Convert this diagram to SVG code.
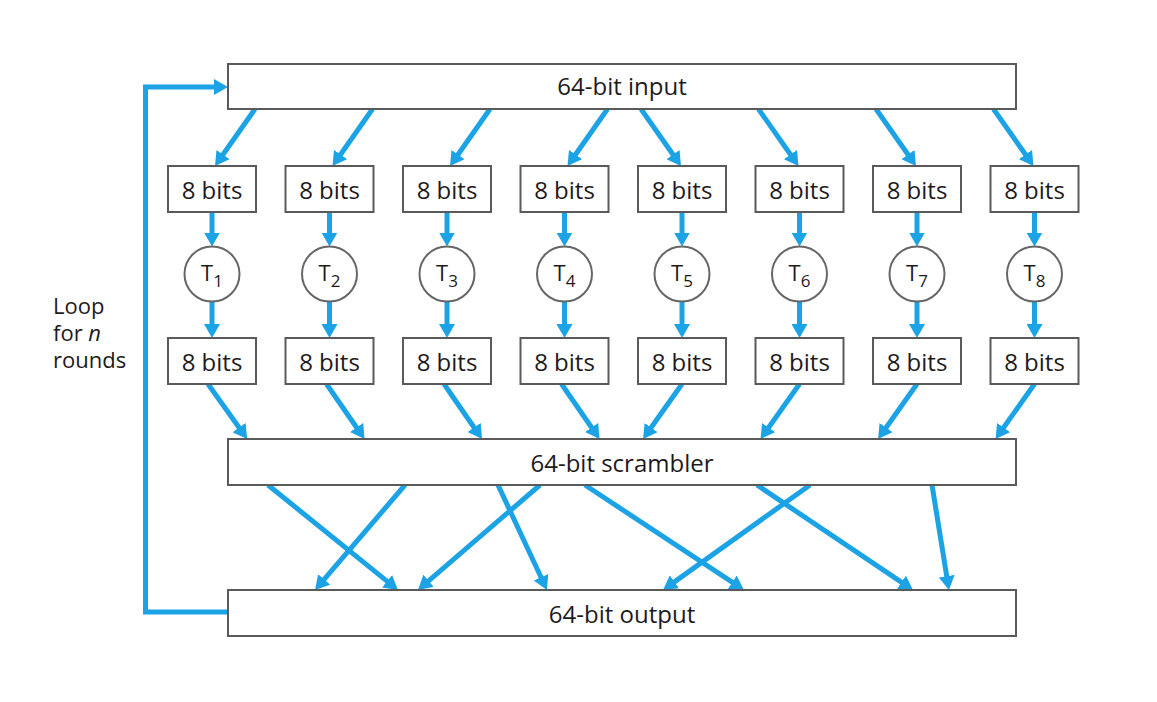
<svg xmlns="http://www.w3.org/2000/svg" width="1157" height="702" viewBox="0 0 1157 702">
  <style>
    .box { fill: #ffffff; stroke: #5a5a5a; stroke-width: 2; }
    .circ { fill: #ffffff; stroke: #666666; stroke-width: 2; }
    .lbl { font-family: "Open Sans", "Noto Sans", sans-serif; font-size: 24px; fill: #1e1a1b; text-anchor: middle; }
    .tl { font-family: "Open Sans", "Noto Sans", sans-serif; font-size: 22px; fill: #1e1a1b; text-anchor: middle; }
    .side { font-family: "Open Sans", "Noto Sans", sans-serif; font-size: 22px; fill: #1e1a1b; }
    .arr { stroke: #1ba3e6; stroke-width: 5; fill: none; marker-end: url(#head); }
  </style>
  <defs>
    <marker id="head" viewBox="0 0 14 16" refX="3" refY="8" markerWidth="14" markerHeight="16" markerUnits="userSpaceOnUse" orient="auto">
      <path d="M0,0 L14,8 L0,16 z" fill="#1ba3e6"/>
    </marker>
  </defs>

  <rect width="1157" height="702" fill="#ffffff"/>

  <!-- connectors -->
  <g id="connectors">
    <!-- feedback loop: output back to input -->
    <path class="arr" d="M228,612 H145.5 V87 H217" stroke-linejoin="miter"/>

    <!-- input to first 8-bit blocks -->
    <line class="arr" x1="255" y1="109" x2="221.3" y2="157"/>
    <line class="arr" x1="372.5" y1="109" x2="338.8" y2="157"/>
    <line class="arr" x1="490" y1="109" x2="456.3" y2="157"/>
    <line class="arr" x1="607.5" y1="109" x2="573.8" y2="157"/>
    <line class="arr" x1="641" y1="109" x2="674.7" y2="157"/>
    <line class="arr" x1="758.5" y1="109" x2="792.2" y2="157"/>
    <line class="arr" x1="876" y1="109" x2="909.7" y2="157"/>
    <line class="arr" x1="993.5" y1="109" x2="1027.2" y2="157"/>

    <!-- blocks to T boxes and back -->
    <line class="arr" x1="212" y1="212" x2="212" y2="235.5"/>
    <line class="arr" x1="329.5" y1="212" x2="329.5" y2="235.5"/>
    <line class="arr" x1="447" y1="212" x2="447" y2="235.5"/>
    <line class="arr" x1="564.5" y1="212" x2="564.5" y2="235.5"/>
    <line class="arr" x1="682" y1="212" x2="682" y2="235.5"/>
    <line class="arr" x1="799.5" y1="212" x2="799.5" y2="235.5"/>
    <line class="arr" x1="917" y1="212" x2="917" y2="235.5"/>
    <line class="arr" x1="1034.5" y1="212" x2="1034.5" y2="235.5"/>

    <line class="arr" x1="212" y1="301.5" x2="212" y2="327"/>
    <line class="arr" x1="329.5" y1="301.5" x2="329.5" y2="327"/>
    <line class="arr" x1="447" y1="301.5" x2="447" y2="327"/>
    <line class="arr" x1="564.5" y1="301.5" x2="564.5" y2="327"/>
    <line class="arr" x1="682" y1="301.5" x2="682" y2="327"/>
    <line class="arr" x1="799.5" y1="301.5" x2="799.5" y2="327"/>
    <line class="arr" x1="917" y1="301.5" x2="917" y2="327"/>
    <line class="arr" x1="1034.5" y1="301.5" x2="1034.5" y2="327"/>

    <!-- second 8-bit blocks to scrambler -->
    <line class="arr" x1="208" y1="384" x2="240.8" y2="430"/>
    <line class="arr" x1="326.5" y1="384" x2="358.3" y2="430"/>
    <line class="arr" x1="444" y1="384" x2="475.8" y2="430"/>
    <line class="arr" x1="561.5" y1="384" x2="593.3" y2="430"/>
    <line class="arr" x1="682" y1="384" x2="649.4" y2="430"/>
    <line class="arr" x1="799.5" y1="384" x2="766.9" y2="430"/>
    <line class="arr" x1="917" y1="384" x2="884.4" y2="430"/>
    <line class="arr" x1="1034.5" y1="384" x2="1001.9" y2="430"/>

    <!-- scrambler to output -->
    <line class="arr" x1="268" y1="485" x2="389.4" y2="583.1"/>
    <line class="arr" x1="405" y1="485" x2="322.2" y2="581.7"/>
    <line class="arr" x1="498" y1="485" x2="542.3" y2="580"/>
    <line class="arr" x1="540" y1="485" x2="426.3" y2="582.8"/>
    <line class="arr" x1="585" y1="485" x2="734.8" y2="583.9"/>
    <line class="arr" x1="757" y1="485" x2="903.9" y2="583.9"/>
    <line class="arr" x1="810" y1="485" x2="672" y2="583.6"/>
    <line class="arr" x1="932" y1="485" x2="947.2" y2="579.1"/>
  </g>

  <!-- wide stages -->
  <g id="input">
    <rect class="box" x="228" y="64" width="788" height="45"/>
    <text class="lbl" x="622" y="95">64-bit input</text>
  </g>
  <g id="scrambler">
    <rect class="box" x="228" y="439" width="788" height="46"/>
    <text class="lbl" x="622" y="472">64-bit scrambler</text>
  </g>
  <g id="output">
    <rect class="box" x="228" y="590" width="788" height="46"/>
    <text class="lbl" x="622" y="623">64-bit output</text>
  </g>

  <!-- first row of 8-bit blocks -->
  <g id="in1"><rect class="box" x="168" y="166" width="88" height="46"/><text class="lbl" x="212" y="199">8 bits</text></g>
  <g id="in2"><rect class="box" x="285.5" y="166" width="88" height="46"/><text class="lbl" x="329.5" y="199">8 bits</text></g>
  <g id="in3"><rect class="box" x="403" y="166" width="88" height="46"/><text class="lbl" x="447" y="199">8 bits</text></g>
  <g id="in4"><rect class="box" x="520.5" y="166" width="88" height="46"/><text class="lbl" x="564.5" y="199">8 bits</text></g>
  <g id="in5"><rect class="box" x="638" y="166" width="88" height="46"/><text class="lbl" x="682" y="199">8 bits</text></g>
  <g id="in6"><rect class="box" x="755.5" y="166" width="88" height="46"/><text class="lbl" x="799.5" y="199">8 bits</text></g>
  <g id="in7"><rect class="box" x="873" y="166" width="88" height="46"/><text class="lbl" x="917" y="199">8 bits</text></g>
  <g id="in8"><rect class="box" x="990.5" y="166" width="88" height="46"/><text class="lbl" x="1034.5" y="199">8 bits</text></g>

  <!-- substitution tables -->
  <g id="t1"><circle class="circ" cx="212" cy="274" r="27.5"/><text class="tl" x="212" y="281">T<tspan font-size="17" dy="6">1</tspan></text></g>
  <g id="t2"><circle class="circ" cx="329.5" cy="274" r="27.5"/><text class="tl" x="329.5" y="281">T<tspan font-size="17" dy="6">2</tspan></text></g>
  <g id="t3"><circle class="circ" cx="447" cy="274" r="27.5"/><text class="tl" x="447" y="281">T<tspan font-size="17" dy="6">3</tspan></text></g>
  <g id="t4"><circle class="circ" cx="564.5" cy="274" r="27.5"/><text class="tl" x="564.5" y="281">T<tspan font-size="17" dy="6">4</tspan></text></g>
  <g id="t5"><circle class="circ" cx="682" cy="274" r="27.5"/><text class="tl" x="682" y="281">T<tspan font-size="17" dy="6">5</tspan></text></g>
  <g id="t6"><circle class="circ" cx="799.5" cy="274" r="27.5"/><text class="tl" x="799.5" y="281">T<tspan font-size="17" dy="6">6</tspan></text></g>
  <g id="t7"><circle class="circ" cx="917" cy="274" r="27.5"/><text class="tl" x="917" y="281">T<tspan font-size="17" dy="6">7</tspan></text></g>
  <g id="t8"><circle class="circ" cx="1034.5" cy="274" r="27.5"/><text class="tl" x="1034.5" y="281">T<tspan font-size="17" dy="6">8</tspan></text></g>

  <!-- second row of 8-bit blocks -->
  <g id="out1"><rect class="box" x="168" y="338" width="88" height="46"/><text class="lbl" x="212" y="371">8 bits</text></g>
  <g id="out2"><rect class="box" x="285.5" y="338" width="88" height="46"/><text class="lbl" x="329.5" y="371">8 bits</text></g>
  <g id="out3"><rect class="box" x="403" y="338" width="88" height="46"/><text class="lbl" x="447" y="371">8 bits</text></g>
  <g id="out4"><rect class="box" x="520.5" y="338" width="88" height="46"/><text class="lbl" x="564.5" y="371">8 bits</text></g>
  <g id="out5"><rect class="box" x="638" y="338" width="88" height="46"/><text class="lbl" x="682" y="371">8 bits</text></g>
  <g id="out6"><rect class="box" x="755.5" y="338" width="88" height="46"/><text class="lbl" x="799.5" y="371">8 bits</text></g>
  <g id="out7"><rect class="box" x="873" y="338" width="88" height="46"/><text class="lbl" x="917" y="371">8 bits</text></g>
  <g id="out8"><rect class="box" x="990.5" y="338" width="88" height="46"/><text class="lbl" x="1034.5" y="371">8 bits</text></g>

  <!-- loop annotation -->
  <g id="loop-label">
    <text class="side" x="53" y="314">Loop</text>
    <text class="side" x="53" y="341">for <tspan font-style="italic">n</tspan></text>
    <text class="side" x="53" y="368">rounds</text>
  </g>
</svg>
